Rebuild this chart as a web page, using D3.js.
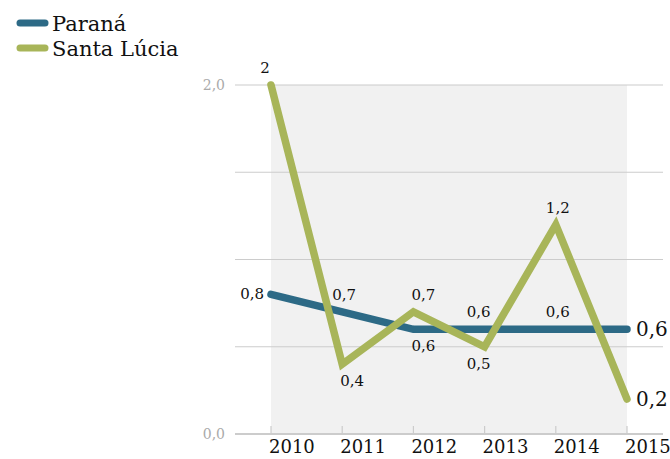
<!DOCTYPE html>
<html><head><meta charset="utf-8">
<script src="https://cdn.jsdelivr.net/npm/d3@7"></script>
<style>body{margin:0;background:#fff}svg{display:block}</style>
</head><body>
<svg id="c" width="670" height="459"></svg>
<script>
const years = ["2010","2011","2012","2013","2014","2015"];
const parana = [0.8, 0.7, 0.6, 0.6, 0.6, 0.6];
const santaLucia = [2, 0.4, 0.7, 0.5, 1.2, 0.2];
const paranaPlace = ["left","above","below-right","above-left","above","right"];
const santaPlace = ["above-left","below-right","above-right","below-left","above","right"];
const yTicks = [0, 0.5, 1, 1.5, 2];
const yLabels = ["0,0","2,0"];
const seriesNames = ["Paraná","Santa Lúcia"];
const colors = ["#2d6a86","#a8b559"];
const font = "'DejaVu Serif', serif";

const svg = d3.select("#c");
const x = d3.scalePoint().domain(years).range([271, 627]);
const y = d3.scaleLinear().domain([0, 2]).range([434, 85]);

// shaded area
svg.append("rect").attr("x", x("2010")).attr("y", y(2))
  .attr("width", x("2015") - x("2010")).attr("height", y(0) - y(2)).attr("fill", "#f1f1f1");

// gridlines
svg.selectAll(".g").data(yTicks).enter().append("line")
  .attr("x1", 235).attr("x2", 663).attr("y1", d => y(d)).attr("y2", d => y(d))
  .attr("stroke", "#cccccc").attr("stroke-width", d => d === 0 ? 2 : 1.2);

// x ticks
svg.selectAll(".t").data(years).enter().append("line")
  .attr("x1", d => x(d)).attr("x2", d => x(d)).attr("y1", y(0) - 8).attr("y2", y(0))
  .attr("stroke", "#cccccc").attr("stroke-width", 1.2);

svg.selectAll(".xl").data(years).enter().append("text")
  .attr("x", d => x(d) - 2).attr("y", 453).text(d => d)
  .attr("font-family", font).attr("font-size", 18).attr("fill", "#111");

// y labels
svg.selectAll(".yl").data([0, 2]).enter().append("text")
  .attr("x", 225).attr("y", d => y(d) + 5).attr("text-anchor", "end")
  .text((d, i) => yLabels[i])
  .attr("font-family", font).attr("font-size", 14).attr("fill", "#aaaaaa");

const line = d3.line().x((d, i) => x(years[i])).y(d => y(d));
[parana, santaLucia].forEach((s, k) => {
  svg.append("path").attr("d", line(s)).attr("fill", "none")
    .attr("stroke", colors[k]).attr("stroke-width", 7.5)
    .attr("stroke-linejoin", "miter").attr("stroke-linecap", "round");
});

function fmt(v) { return v === 2 ? "2" : d3.format(".1f")(v).replace(".", ","); }
function drawLabels(s, places) {
  s.forEach((v, i) => {
    const p = places[i];
    const px = x(years[i]), py = y(v);
    let tx = px, ty = py, anchor = "middle", size = 15;
    if (p.startsWith("above")) { ty = py - 12; }
    if (p.startsWith("below")) { ty = py + 22; }
    if (p.endsWith("-right")) tx = px + 10;
    if (p.endsWith("-left")) tx = px - 6;
    if (p === "above") tx = px + 2;
    if (p === "left") { tx = px - 7; ty = py + 5; anchor = "end"; }
    if (p === "right") { tx = px + 9; ty = py + 7; anchor = "start"; size = 20; }
    svg.append("text").attr("x", tx).attr("y", ty).attr("text-anchor", anchor)
      .text(fmt(v)).attr("font-family", font).attr("font-size", size).attr("fill", "#111");
  });
}
drawLabels(parana, paranaPlace);
drawLabels(santaLucia, santaPlace);

// legend
seriesNames.forEach((n, i) => {
  const ly = 23 + i * 25;
  svg.append("line").attr("x1", 20).attr("x2", 45).attr("y1", ly).attr("y2", ly)
    .attr("stroke", colors[i]).attr("stroke-width", 7).attr("stroke-linecap", "round");
  svg.append("text").attr("x", 52).attr("y", ly + 8).text(n)
    .attr("font-family", font).attr("font-size", 21).attr("fill", "#111");
});
</script>
</body></html>
